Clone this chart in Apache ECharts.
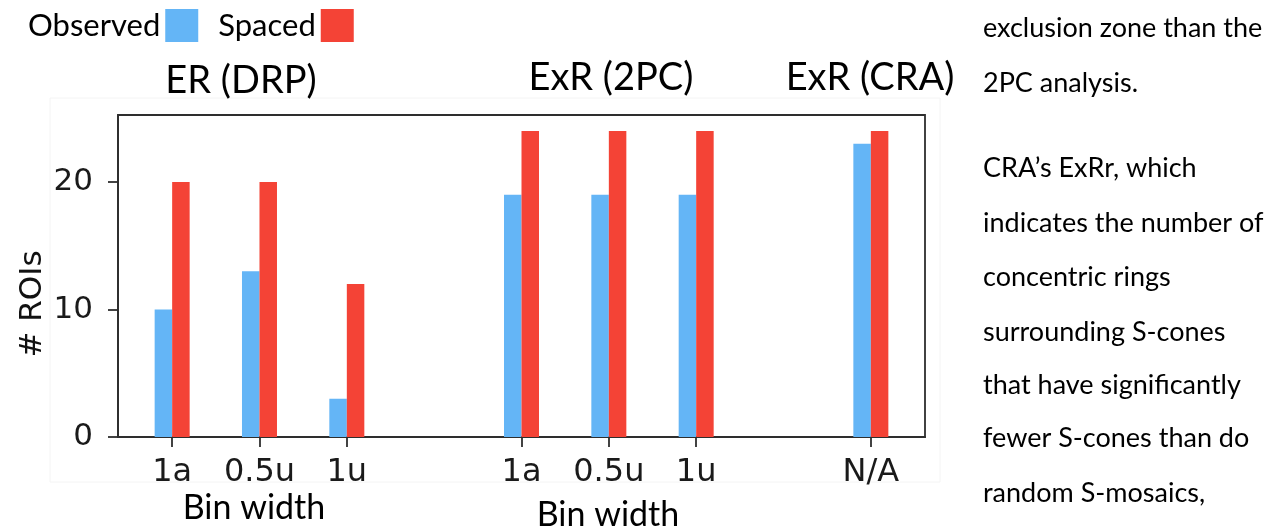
<!DOCTYPE html>
<html>
<head>
<meta charset="utf-8">
<script src="https://cdn.jsdelivr.net/npm/echarts@6/dist/echarts.min.js"></script>
<style>
  html, body { margin: 0; padding: 0; background: #fff; }
  #chart { width: 1281px; height: 529px; }
</style>
</head>
<body>
<div id="chart"></div>
<script>
// Bin-width categories; empty strings are spacer slots between the three analyses
const categories = ['1a', '0.5u', '1u', '', '1a', '0.5u', '1u', '', 'N/A'];
const observed = [10, 13, 3, null, 19, 19, 19, null, 23];
const spaced = [20, 20, 12, null, 24, 24, 24, null, 24];
const seriesNames = ['Observed', 'Spaced'];
const yTicks = [0, 10, 20];
const groupTitles = ['ER (DRP)', 'ExR (2PC)', 'ExR (CRA)'];
const xAxisTitle = 'Bin width';
const yAxisTitle = '# ROIs';
const sideText = [
  'exclusion zone than the',
  '2PC analysis.',
  'CRA\u2019s ExRr, which',
  'indicates the number of',
  'concentric rings',
  'surrounding S-cones',
  'that have significantly',
  'fewer S-cones than do',
  'random S-mosaics,'
];

const BLUE = '#64B5F6';
const RED = '#F44336';
const AXIS = '#2e2e2e';
const TEXT_FONT = 'Lato, "Open Sans", sans-serif';
const TICK_FONT = '"DejaVu Sans", sans-serif';

const tickIdx = categories.map((c, i) => (c ? i : null)).filter(i => i !== null);
const toPairs = arr => arr.map((v, i) => (v == null ? null : [i, v]));

const chart = echarts.init(document.getElementById('chart'), null, { renderer: 'canvas' });

// Text blocks outside the plot area
const titleX = [241, 611, 870];
const titleY = [81, 78, 78];
const binLabelPos = [[254, 508], [608, 515]];
const sideY = [28, 83, 168, 223, 277, 332, 385, 438, 493];

const graphics = [
  {
    type: 'rect', z: -1, silent: true,
    shape: { x: 50, y: 98, width: 890, height: 384 },
    style: { fill: 'none', stroke: '#f4f4f4', lineWidth: 1 }
  }
];
groupTitles.forEach((t, i) => graphics.push({
  type: 'text', x: titleX[i], y: titleY[i],
  style: { text: t, font: '38px ' + TEXT_FONT, fill: '#000', align: 'center', verticalAlign: 'middle' }
}));
binLabelPos.forEach(p => graphics.push({
  type: 'text', x: p[0], y: p[1],
  style: { text: xAxisTitle, font: '34px ' + TEXT_FONT, fill: '#000', align: 'center', verticalAlign: 'middle' }
}));
graphics.push({
  type: 'text', x: 33, y: 304, rotation: Math.PI / 2,
  style: { text: yAxisTitle, font: '31px ' + TICK_FONT, fill: '#111', align: 'center', verticalAlign: 'middle' }
});
sideText.forEach((t, i) => graphics.push({
  type: 'text', x: 983, y: sideY[i],
  style: { text: t, font: '27px ' + TEXT_FONT, fill: '#000', align: 'left', verticalAlign: 'middle' }
}));

chart.setOption({
  animation: false,
  backgroundColor: '#fff',
  legend: {
    data: seriesNames,
    left: 28, top: 9, padding: 0,
    align: 'right',
    icon: 'rect',
    itemWidth: 33, itemHeight: 33, itemGap: 20,
    textStyle: { fontFamily: TEXT_FONT, fontSize: 31, color: '#000' }
  },
  grid: {
    left: 118, top: 115, width: 807, height: 322,
    show: true, borderColor: AXIS, borderWidth: 1.8, backgroundColor: '#fff'
  },
  xAxis: {
    type: 'value',
    min: -0.62, max: 8.62,
    splitLine: { show: false },
    axisLine: { show: true, onZero: false, lineStyle: { color: AXIS, width: 1.8 } },
    axisTick: { show: true, customValues: tickIdx, length: 10, lineStyle: { color: AXIS, width: 1.8 } },
    axisLabel: {
      customValues: tickIdx,
      formatter: v => categories[Math.round(v)],
      fontFamily: TICK_FONT, fontSize: 32, color: '#1a1a1a', margin: 20
    }
  },
  yAxis: {
    type: 'value',
    min: 0, max: 25.25,
    splitLine: { show: false },
    axisLine: { show: true, onZero: false, lineStyle: { color: AXIS, width: 1.8 } },
    axisTick: { show: true, customValues: yTicks, length: 10, lineStyle: { color: AXIS, width: 1.8 } },
    axisLabel: {
      customValues: yTicks,
      fontFamily: TICK_FONT, fontSize: 31, color: '#1a1a1a', margin: 25
    }
  },
  series: [
    {
      name: seriesNames[0], type: 'bar',
      data: toPairs(observed),
      barWidth: 17.5, barGap: '0%',
      itemStyle: { color: BLUE }
    },
    {
      name: seriesNames[1], type: 'bar',
      data: toPairs(spaced),
      barWidth: 17.5, barGap: '0%',
      itemStyle: { color: RED }
    }
  ],
  graphic: graphics
});
</script>
</body>
</html>
